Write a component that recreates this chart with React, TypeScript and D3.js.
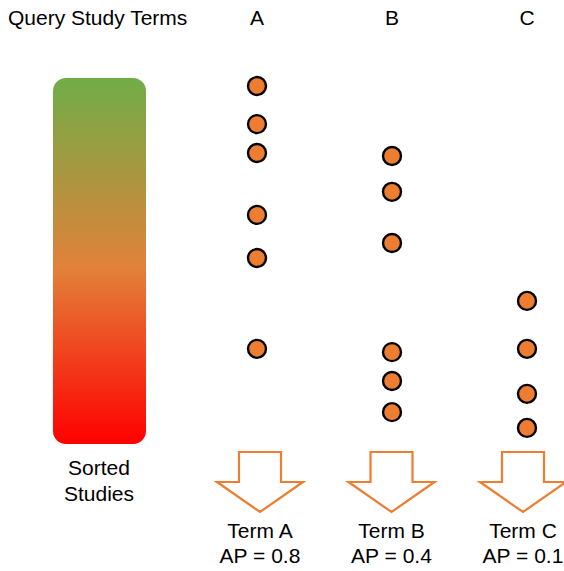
import React from 'react';
import * as d3 from 'd3';

// rank position (0 = top of sorted list, 100 = bottom) of each matching study
const terms = ['A', 'B', 'C'];
const termRanks = [
  [2.2, 12.6, 20.5, 37.4, 49.2, 74.0],
  [21.3, 31.1, 45.1, 74.9, 82.8, 91.3],
  [60.9, 74.0, 86.3, 95.6],
];
const apValues = ['0.8', '0.4', '0.1'];

const W = 564;
const H = 571;
const FONT = '"Liberation Sans", Arial, sans-serif';
const FS = 21;

export default function App() {
  const y = d3.scaleLinear().domain([0, 100]).range([78, 444]);
  const xDots = d3.scalePoint<string>().domain(terms).range([257, 527]);
  const xArrow = d3.scalePoint<string>().domain(terms).range([260, 523]);

  const arrowPath = (cx: number) => {
    const p = d3.path();
    p.moveTo(cx - 21, 452);
    p.lineTo(cx + 21, 452);
    p.lineTo(cx + 21, 482);
    p.lineTo(cx + 43, 482);
    p.lineTo(cx, 512);
    p.lineTo(cx - 43, 482);
    p.lineTo(cx - 21, 482);
    p.closePath();
    return p.toString();
  };

  return (
    <svg width={W} height={H} style={{ position: 'absolute', left: 0, top: 0 }}>
      <defs>
        <linearGradient id="rankGrad" x1="0" y1="0" x2="0" y2="1">
          <stop offset="0%" stopColor="#70AD47" />
          <stop offset="52%" stopColor="#E2813A" />
          <stop offset="100%" stopColor="#FF0000" />
        </linearGradient>
      </defs>
      <rect width={W} height={H} fill="#fff" />
      <text x={8} y={25} fontFamily={FONT} fontSize={FS} fill="#000">
        Query Study Terms
      </text>
      <rect x={53} y={y(0)} width={93} height={y(100) - y(0)} rx={13} fill="url(#rankGrad)" />
      <text x={99} y={475} textAnchor="middle" fontFamily={FONT} fontSize={FS} fill="#000">
        Sorted
      </text>
      <text x={99} y={501} textAnchor="middle" fontFamily={FONT} fontSize={FS} fill="#000">
        Studies
      </text>
      {terms.map((t, i) => (
        <g key={t}>
          <text x={xDots(t)} y={25} textAnchor="middle" fontFamily={FONT} fontSize={FS} fill="#000">
            {t}
          </text>
          {termRanks[i].map((r, j) => (
            <circle
              key={j}
              cx={xDots(t)}
              cy={y(r)}
              r={9}
              fill="#ED7D31"
              stroke="#000"
              strokeWidth={2.4}
            />
          ))}
          <path d={arrowPath(xArrow(t)!)} fill="#fff" stroke="#ED7D31" strokeWidth={2.2} />
          <text x={xArrow(t)} y={538} textAnchor="middle" fontFamily={FONT} fontSize={FS} fill="#000">
            Term {t}
          </text>
          <text x={xArrow(t)} y={563} textAnchor="middle" fontFamily={FONT} fontSize={FS} fill="#000">
            AP = {apValues[i]}
          </text>
        </g>
      ))}
    </svg>
  );
}
